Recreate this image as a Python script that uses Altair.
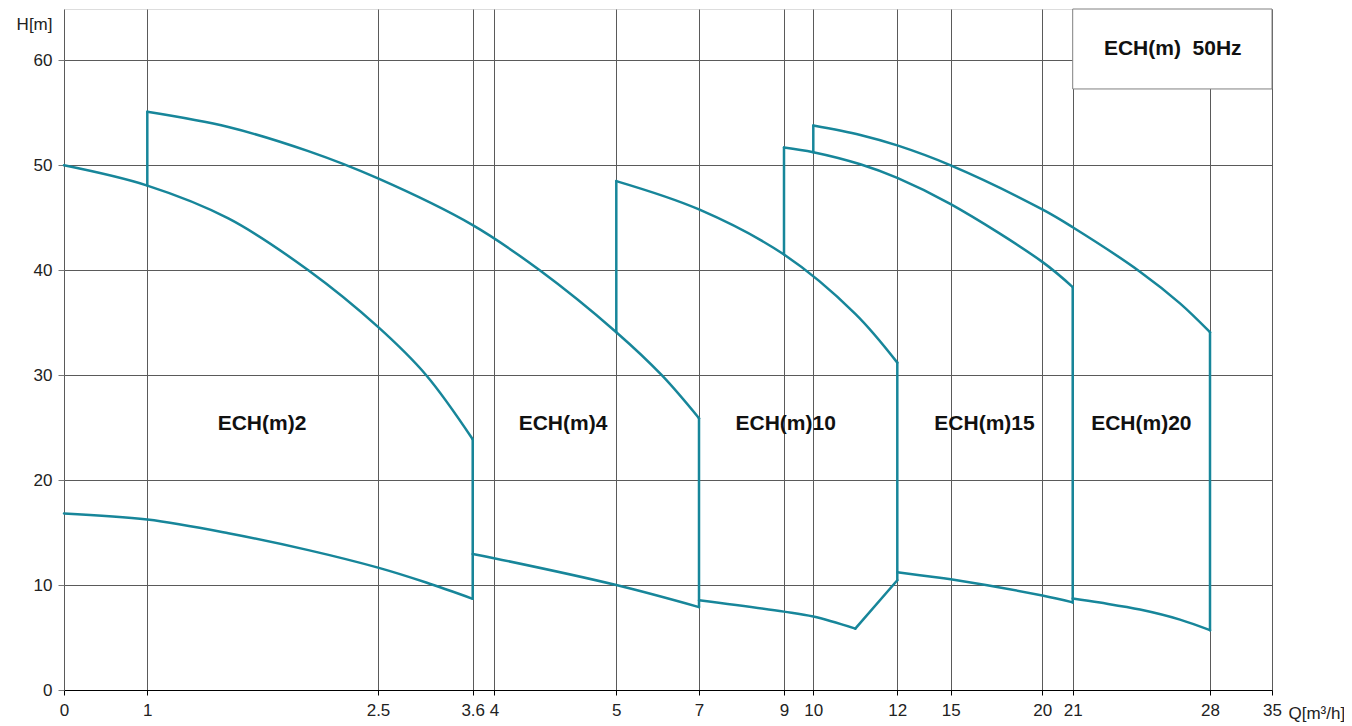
import altair as alt
import pandas as pd

# ---------------- axis definition (non-uniform Q axis) ----------------
x_ticks = [0, 1, 2.5, 3.6, 4, 5, 7, 9, 10, 12, 15, 20, 21, 28, 35]
x_tick_px = [0, 83.3, 314, 408.7, 430, 552.3, 635, 720, 749.3, 833.3, 886.7, 978.3, 1008.7, 1146, 1208]
y_ticks = [0, 10, 20, 30, 40, 50, 60]

# ---------------- curve data (Q [m3/h], H [m]) ----------------
ech2_max_q = [0, 1, 1.527, 2.047, 2.5, 3.06, 3.6]
ech2_max_h = [50.0, 48.07, 44.94, 40.0, 34.6, 30.0, 23.9]
ech2_min_q = [0, 1, 1.527, 2.047, 2.5, 3.06, 3.6]
ech2_min_h = [16.83, 16.24, 14.94, 13.33, 11.66, 10.24, 8.69]

ech4_max_q = [1, 1.527, 2.047, 2.5, 3.6, 4.374, 5, 6.1, 7]
ech4_max_h = [55.1, 53.65, 51.35, 48.75, 44.3, 40.0, 34.1, 30.0, 25.9]
ech4_min_q = [3.6, 4, 5, 7]
ech4_min_h = [12.96, 12.56, 10.0, 7.9]

ech10_max_q = [5, 7, 9, 11, 12]
ech10_max_h = [48.5, 45.8, 41.5, 35.85, 31.2]
ech10_min_q = [7, 9, 10, 11]
ech10_min_h = [8.55, 7.47, 7.0, 5.85]
ech10_link_q = [11, 12]
ech10_link_h = [5.85, 10.46]

ech15_max_q = [9, 10, 11.12, 12, 15, 20, 21]
ech15_max_h = [51.7, 51.25, 50.1, 48.8, 46.3, 40.8, 38.4]
ech15_min_q = [12, 14.39, 15, 20, 21]
ech15_min_h = [11.22, 10.69, 10.55, 9.0, 8.35]

ech20_max_q = [10, 11.12, 12, 15, 20, 21, 24.43, 26.47, 28]
ech20_max_h = [53.8, 52.9, 51.9, 50.0, 45.8, 44.1, 39.87, 36.85, 34.1]
ech20_min_q = [21, 22.39, 24.43, 26.47, 28]
ech20_min_h = [8.73, 8.33, 7.67, 6.71, 5.7]

# vertical connecting segments
vert_q = [1, 3.6, 5, 7, 9, 10, 12, 21, 28]
vert_h_low = [48.07, 8.69, 34.1, 7.9, 41.5, 51.25, 10.46, 8.35, 5.7]
vert_h_high = [55.1, 23.9, 48.5, 25.9, 51.7, 53.8, 31.2, 38.4, 34.1]

# pump labels
label_names = ["ECH(m)2", "ECH(m)4", "ECH(m)10", "ECH(m)15", "ECH(m)20"]
label_q = [1.746, 4.564, 9.058, 16.845, 24.5]
label_h = [25.35, 25.35, 25.35, 25.35, 25.35]

# title box
box_text = ["ECH(m)\u00a0 50Hz"]
box_q = [21]
box_q2 = [35]
box_h = [57.28]
box_h2 = [64.9]
box_text_q = [26.1]
box_text_h = [61.05]

# ---------------- build tables ----------------
series = {
    "ech2_max": (ech2_max_q, ech2_max_h),
    "ech2_min": (ech2_min_q, ech2_min_h),
    "ech4_max": (ech4_max_q, ech4_max_h),
    "ech4_min": (ech4_min_q, ech4_min_h),
    "ech10_max": (ech10_max_q, ech10_max_h),
    "ech10_min": (ech10_min_q, ech10_min_h),
    "ech10_link": (ech10_link_q, ech10_link_h),
    "ech15_max": (ech15_max_q, ech15_max_h),
    "ech15_min": (ech15_min_q, ech15_min_h),
    "ech20_max": (ech20_max_q, ech20_max_h),
    "ech20_min": (ech20_min_q, ech20_min_h),
}
rows = []
for name, (qs, hs) in series.items():
    for i, (q, h) in enumerate(zip(qs, hs)):
        rows.append({"series": name, "Q": q, "H": h, "order": i})
curves_df = pd.DataFrame(rows)
vert_df = pd.DataFrame({"Q": vert_q, "H": vert_h_low, "H2": vert_h_high})
labels_df = pd.DataFrame({"name": label_names, "Q": label_q, "H": label_h})
box_df = pd.DataFrame({"Q": box_q, "Q2": box_q2, "H": box_h, "H2": box_h2})
box_text_df = pd.DataFrame({"t": box_text, "Q": box_text_q, "H": box_text_h})

# ---------------- style ----------------
TEAL = "#17869A"
FONT = "Liberation Sans"
GRID = "#5a5a5a"

xscale = alt.Scale(domain=x_ticks, range=x_tick_px, nice=False, zero=False)
yscale = alt.Scale(domain=[0, 64.9], nice=False, zero=False)

xaxis = alt.Axis(
    values=x_ticks, format="~g", grid=True, gridColor=GRID, gridWidth=1,
    domainColor="#000", domainWidth=1, tickColor="#000", tickSize=5,
    labelPadding=7, labelFont=FONT, labelFontSize=17, labelColor="#222",
    labelOverlap=False, labelFlush=False, labelBound=False,
    title="Q[m³/h]", titleX=1224, titleY=28, titleAlign="left",
    titleBaseline="alphabetic", titleFont=FONT, titleFontSize=17,
    titleFontWeight="normal", titleColor="#222",
)
yaxis = alt.Axis(
    values=y_ticks, grid=True, gridColor=GRID, gridWidth=1, domain=False,
    tickColor="#777", tickSize=6, labelPadding=6, labelFont=FONT,
    labelFontSize=17, labelColor="#222", labelOverlap=False,
    title="H[m]", titleAngle=0, titleX=-12, titleY=20, titleAlign="right",
    titleBaseline="alphabetic", titleFont=FONT, titleFontSize=17,
    titleFontWeight="normal", titleColor="#222",
)

X = alt.X("Q:Q", scale=xscale, axis=xaxis)
Y = alt.Y("H:Q", scale=yscale, axis=yaxis)

box = alt.Chart(box_df).mark_rect(fill="white", stroke="#808080", strokeWidth=1).encode(
    x=X, x2="Q2:Q", y=Y, y2="H2:Q"
)
box_label = alt.Chart(box_text_df).mark_text(
    font=FONT, fontSize=21, fontWeight="bold", color="#111", align="center", baseline="middle"
).encode(x=X, y=Y, text="t:N")

lines = alt.Chart(curves_df).mark_line(
    color=TEAL, strokeWidth=2.5, interpolate="catmull-rom", strokeCap="round", strokeJoin="round"
).encode(x=X, y=Y, detail="series:N", order="order:Q")

verts = alt.Chart(vert_df).mark_rule(color=TEAL, strokeWidth=2.5, strokeCap="round").encode(
    x=X, y=Y, y2="H2:Q"
)

labels = alt.Chart(labels_df).mark_text(
    font=FONT, fontSize=21, fontWeight="bold", color="#111", align="center", baseline="middle"
).encode(x=X, y=Y, text="name:N")

chart = alt.layer(box, box_label, lines, verts, labels).properties(
    width=1208, height=681,
    padding={"left": 56, "top": 1, "right": 72, "bottom": 34},
    autosize=alt.AutoSizeParams(type="none"),
).configure_view(stroke="#777", strokeWidth=1).configure(background="white")

chart.save("out.html", embed_options={"renderer": "svg", "actions": False})
